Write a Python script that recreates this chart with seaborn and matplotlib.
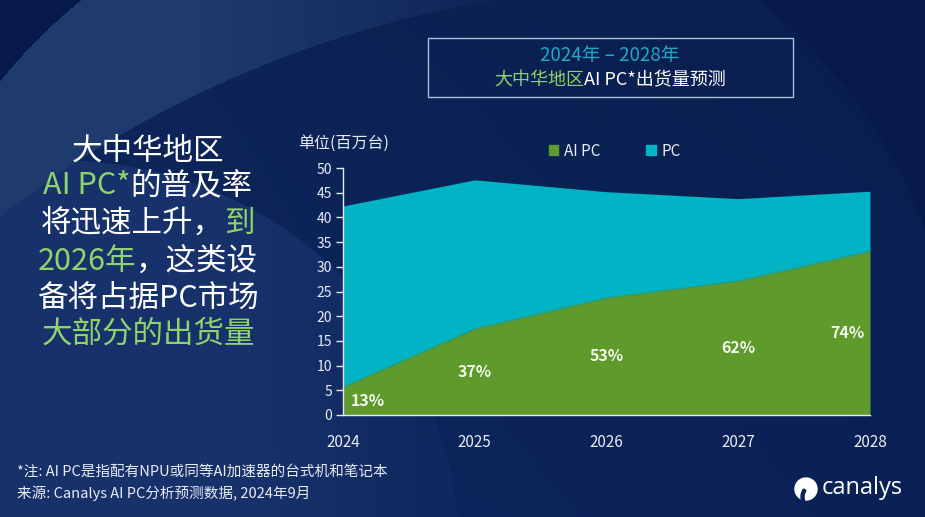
import numpy as np
import matplotlib
matplotlib.use("Agg")
import matplotlib.pyplot as plt
import seaborn as sns
from matplotlib.patches import Rectangle, Patch, Circle, Wedge

# ------------------------------------------------------------
# DATA (million units, Greater China)
# ------------------------------------------------------------
years = [2024, 2025, 2026, 2027, 2028]
total_pc = [42.3, 47.6, 45.2, 43.8, 45.3]
ai_pc = [5.6, 17.4, 23.7, 27.1, 33.1]
ai_share = ["13%", "37%", "53%", "62%", "74%"]
y_ticks = [0, 5, 10, 15, 20, 25, 30, 35, 40, 45, 50]

GREEN = "#5f9a2d"
CYAN = "#00b4c6"
LIGHT_GREEN = "#8fd36c"
TITLE_CYAN = "#22a8c6"

W, H = 925, 517

sns.set_theme(style="ticks")
plt.rcParams["font.family"] = ["Noto Sans CJK SC", "DejaVu Sans"]

fig = plt.figure(figsize=(W / 100, H / 100), dpi=100)

# ------------------------------------------------------------
# BACKGROUND (navy with swooshes)
# ------------------------------------------------------------
yy, xx = np.mgrid[0:H, 0:W].astype(float)
def hexrgb(h):
    h = h.lstrip("#")
    return np.array([int(h[i:i + 2], 16) for i in (0, 2, 4)]) / 255.0

t = (xx / W)[..., None]
img = hexrgb("#0e2961") * (1 - t) + hexrgb("#0a2156") * t
img = img * (0.9 + 0.1 * (yy / H))[..., None]

inA = (xx - 420) ** 2 + (yy - 420) ** 2 < 540 ** 2
inB = (xx - 674) ** 2 + (yy - 1086) ** 2 < 1101 ** 2
inC = (xx - 60) ** 2 + (yy - 560) ** 2 < 400 ** 2

band = inA & ~inB
fade = np.clip(1 - (xx - 200) / 350, 0, 1)[..., None]
light = hexrgb("#1f3a6c")
img = np.where(band[..., None], img * (1 - fade) + light * fade, img)
cfade = np.clip(1 - (xx - 250) / 250, 0.35, 1)[..., None]
lightc = hexrgb("#17316a")
img = np.where((inC & inB)[..., None], img * (1 - cfade) + lightc * cfade, img)
img = np.where((~inA)[..., None], hexrgb("#07194a"), img)

bg = fig.add_axes([0, 0, 1, 1], zorder=-10)
bg.imshow(np.clip(img, 0, 1), extent=(0, W, H, 0), aspect="auto")
bg.set_xlim(0, W)
bg.set_ylim(H, 0)
bg.axis("off")

# ------------------------------------------------------------
# MAIN CHART
# ------------------------------------------------------------
ax = fig.add_axes([343 / W, 102 / H, 527 / W, 247 / H])
ax.set_facecolor("none")
rest_pc = [t_ - a for t_, a in zip(total_pc, ai_pc)]
ax.stackplot(years, ai_pc, rest_pc, colors=[GREEN, CYAN], linewidth=0)
sns.lineplot(x=years, y=ai_pc, ax=ax, color="#2fa075", linewidth=1.2)

for x, a, s in zip(years, ai_pc, ai_share):
    ha = "center"
    xpos = x
    if x == years[0]:
        ha, xpos = "left", x + 0.06
    elif x == years[-1]:
        ha, xpos = "right", x - 0.04
    ax.text(xpos, max(a * 0.5, 2.4), s, ha=ha, va="center", color="#f4f7ee",
            fontsize=11.5, fontweight="bold")

ax.set_xlim(2024, 2028)
ax.set_ylim(0, 50)
ax.set_xticks(years)
ax.set_xticklabels([str(y) for y in years])
ax.set_yticks(y_ticks)
ax.tick_params(axis="x", length=0, pad=14, labelsize=11, labelcolor="#e8edf5")
ax.tick_params(axis="y", length=5, width=1, color="#e0e6f0", pad=3,
               labelsize=10, labelcolor="#e8edf5")
sns.despine(ax=ax)
for side in ["left", "bottom"]:
    ax.spines[side].set_color("#e6ebf3")
    ax.spines[side].set_linewidth(1)
ax.grid(False)

fig.text(298 / W, 1 - 143 / H, "单位(百万台)", ha="left", va="center",
         color="#e8edf5", fontsize=11.5)

fig.legend(handles=[Patch(color=GREEN, label="AI PC"), Patch(color=CYAN, label="PC")],
           loc="center", bbox_to_anchor=(615 / W, 1 - 151 / H), ncol=2, frameon=False,
           handlelength=0.6, handleheight=0.6, handletextpad=0.4, columnspacing=3.0,
           labelcolor="#e8edf5", fontsize=11)

# ------------------------------------------------------------
# TEXT HELPERS
# ------------------------------------------------------------
renderer = fig.canvas.get_renderer()

def multi_color(xc, ypx, parts, size, weight="normal"):
    texts = [fig.text(0, 1 - ypx / H, s, color=c, fontsize=size, fontweight=weight,
                      ha="left", va="center") for s, c in parts]
    widths = [tt.get_window_extent(renderer).width for tt in texts]
    x0 = xc - sum(widths) / 2
    for tt, w in zip(texts, widths):
        tt.set_x(x0 / W)
        x0 += w

# title box
fig.patches.append(Rectangle((428 / W, 1 - 97 / H), 365 / W, 59 / H, fill=False,
                             edgecolor="#a6c2da", linewidth=1, transform=fig.transFigure))
fig.text(610 / W, 1 - 55 / H, "2024年 – 2028年", ha="center", va="center",
         color=TITLE_CYAN, fontsize=13.5)
multi_color(610, 80, [("大中华地区", LIGHT_GREEN), ("AI PC*出货量预测", "white")], 13)

# left headline
WHITE = "#ffffff"
multi_color(148, 151, [("大中华地区", WHITE)], 22)
multi_color(148, 186, [("AI PC*", LIGHT_GREEN), ("的普及率", WHITE)], 22)
multi_color(148, 223, [("将迅速上升，", WHITE), ("到", LIGHT_GREEN)], 22)
multi_color(148, 261, [("2026年", LIGHT_GREEN), ("，这类设", WHITE)], 22)
multi_color(148, 298, [("备将占据PC市场", WHITE)], 22)
multi_color(148, 334, [("大部分的出货量", LIGHT_GREEN)], 22)

# footnotes
fig.text(17 / W, 1 - 472 / H, "*注: AI PC是指配有NPU或同等AI加速器的台式机和笔记本",
         ha="left", va="center", color="#e8edf5", fontsize=10.5)
fig.text(17 / W, 1 - 493 / H, "来源: Canalys AI PC分析预测数据, 2024年9月",
         ha="left", va="center", color="#e8edf5", fontsize=10.5)

# canalys logo
bg.add_patch(Circle((806, 489), 11, color="white"))
bg.add_patch(Wedge((815, 497), 14, 120, 215, width=3.0, color="#0b2257"))
fig.text(822 / W, 1 - 488 / H, "canalys", ha="left", va="center", color="white",
         fontsize=17, family=["Open Sans", "DejaVu Sans"])

fig.savefig("out.png", dpi=100)
